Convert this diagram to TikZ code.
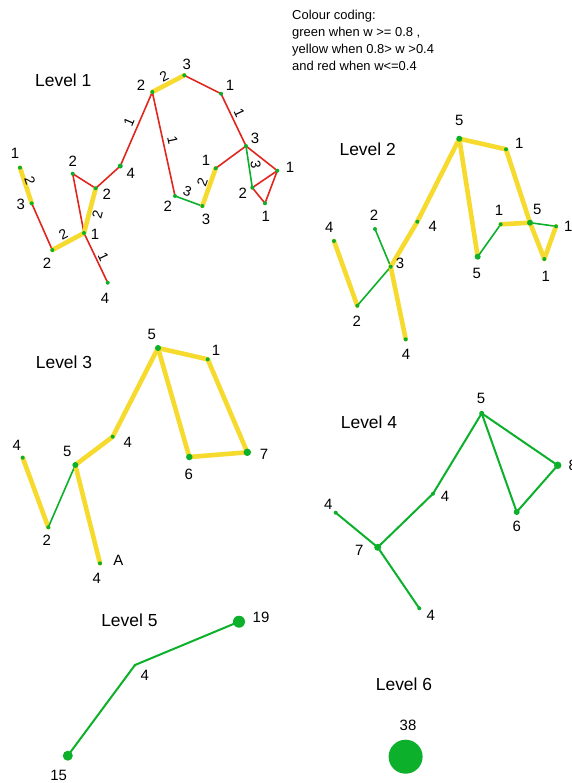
\documentclass[tikz,border=0pt]{standalone}
\usepackage{fontspec}
\setmainfont{Liberation Sans}
\usetikzlibrary{backgrounds}
\definecolor{gcol}{RGB}{13,176,43}
\definecolor{rcol}{RGB}{224,38,30}
\definecolor{ycol}{RGB}{246,218,46}
\tikzset{
  dot/.style={circle,fill=gcol,inner sep=0pt,minimum size=#1},
  dot/.default=4bp,
  vlab/.style={inner sep=0pt,font=\fontsize{15}{15}\selectfont},
  wlab/.style={inner sep=0pt,font=\fontsize{14}{14}\selectfont},
  lvl/.style={inner sep=0pt,font=\fontsize{17.5}{17.5}\selectfont},
  redl/.style={draw=rcol,line width=1.6bp},
  yell/.style={draw=ycol,line width=4.6bp,line cap=round},
  grnl/.style={draw=gcol,line width=1.6bp},
  grnm/.style={draw=gcol,line width=2bp},
}
\begin{document}
\begin{tikzpicture}[x=1bp,y=-1bp]
\useasboundingbox (0,0) rectangle (572,783);

% legend
\node[anchor=north west,inner sep=0pt,align=left,font=\fontsize{13}{17.3}\selectfont] (legend) at (292,9.5)
 {Colour coding:\\green when w >= 0.8 ,\\yellow when 0.8> w >0.4\\and red when w<=0.4};

% ---------------- Level 1
\node[lvl] (L1) at (63.3,80) {Level 1};
\node[dot] (A1) at (20,167.7) {};
\node[dot] (A2) at (31.7,203.3) {};
\node[dot] (A3) at (52.3,250) {};
\node[dot] (A4) at (84,233) {};
\node[dot] (A5) at (107.7,282.7) {};
\node[dot] (A6) at (72.7,173.7) {};
\node[dot] (A7) at (95.7,188.3) {};
\node[dot=5bp] (A8) at (120.3,166) {};
\node[dot] (A9) at (152.3,92) {};
\node[dot] (A10) at (184.3,75.3) {};
\node[dot] (A11) at (221,93.7) {};
\node[dot] (A12) at (246,146) {};
\node[dot] (A13) at (277.3,170.7) {};
\node[dot] (A14) at (252.3,187.7) {};
\node[dot] (A15) at (265,203.3) {};
\node[dot] (A16) at (215.7,168.3) {};
\node[dot] (A17) at (202.3,206) {};
\node[dot] (A18) at (175,196) {};

\node[vlab] (a1) at (15,153) {1};
\node[vlab] (a2) at (20.7,204) {3};
\node[vlab] (a3) at (47,263) {2};
\node[vlab] (a4) at (95,234) {1};
\node[vlab] (a5) at (105,298) {4};
\node[vlab] (a6) at (72.7,161.7) {2};
\node[vlab] (a7) at (106.7,194) {2};
\node[vlab] (a8) at (130.7,173) {4};
\node[vlab] (a9) at (141,85.7) {2};
\node[vlab] (a10) at (186.7,64) {3};
\node[vlab] (a11) at (230,85.7) {1};
\node[vlab] (a12) at (255,138.3) {3};
\node[vlab] (a13) at (290,167.3) {1};
\node[vlab] (a14) at (242.7,193.3) {2};
\node[vlab] (a15) at (265.7,216.7) {1};
\node[vlab] (a16) at (206,160) {1};
\node[vlab] (a17) at (206,219.3) {3};
\node[vlab] (a18) at (167.7,206) {2};

% edge weights
\node[wlab,rotate=-71.8] (w1) at (30,181) {2};
\node[wlab,rotate=28.2] (w2) at (63.3,234) {2};
\node[wlab,rotate=-64.5] (w3) at (103.3,256.7) {1};
\node[wlab,rotate=75.3] (w4) at (97.3,214.3) {2};
\node[wlab,rotate=66.6] (w5) at (129,121.7) {1};
\node[wlab,rotate=27.6] (w6) at (164,76) {2};
\node[wlab,rotate=-64.5] (w7) at (239.3,113.3) {1};
\node[wlab,rotate=-77.7] (w8) at (172.7,140.7) {1};
\node[wlab,rotate=-20.1] (w9) at (187.3,191.7) {3};
\node[wlab,rotate=70.4] (w10) at (202.3,182.3) {2};
\node[wlab,rotate=-81.4] (w11) at (255.7,165) {3};

\begin{scope}[on background layer]
\draw[yell] (A1.center) -- (A2.center);
\draw[redl] (A2.center) -- (A3.center);
\draw[yell] (A3.center) -- (A4.center);
\draw[redl] (A4.center) -- (A5.center);
\draw[redl] (A4.center) -- (A6.center);
\draw[redl] (A6.center) -- (A7.center);
\draw[yell] (A4.center) -- (A7.center);
\draw[redl] (A7.center) -- (A8.center);
\draw[redl] (A8.center) -- (A9.center);
\draw[yell] (A9.center) -- (A10.center);
\draw[redl] (A10.center) -- (A11.center);
\draw[redl] (A11.center) -- (A12.center);
\draw[redl] (A9.center) -- (A18.center);
\draw[grnl] (A18.center) -- (A17.center);
\draw[yell] (A17.center) -- (A16.center);
\draw[redl] (A16.center) -- (A12.center);
\draw[redl] (A12.center) -- (A13.center);
\draw[grnl] (A12.center) -- (A14.center);
\draw[redl] (A14.center) -- (A13.center);
\draw[redl] (A14.center) -- (A15.center);
\draw[redl] (A15.center) -- (A13.center);
\end{scope}

% ---------------- Level 2
\node[lvl] (L2) at (367.7,149) {Level 2};
\node[dot] (B1) at (334,241) {};
\node[dot] (B2) at (357.3,305.7) {};
\node[dot] (B3) at (390.7,266.7) {};
\node[dot] (B4) at (405.7,339.3) {};
\node[dot] (B5) at (375,229) {};
\node[dot] (B6) at (417.3,221.7) {};
\node[dot=6bp] (B7) at (459.3,138.7) {};
\node[dot] (B8) at (506,149.3) {};
\node[dot=6bp] (B9) at (477.7,256.7) {};
\node[dot] (B10) at (500.7,224.3) {};
\node[dot=6bp] (B11) at (530,222.7) {};
\node[dot] (B12) at (556,226.3) {};
\node[dot] (B13) at (544.3,259) {};

\node[vlab] (b1) at (329.3,227.7) {4};
\node[vlab] (b2) at (356.7,321.7) {2};
\node[vlab] (b3) at (400,263.3) {3};
\node[vlab] (b4) at (406,354.3) {4};
\node[vlab] (b5) at (374,215) {2};
\node[vlab] (b6) at (432.7,226) {4};
\node[vlab] (b7) at (459.3,120) {5};
\node[vlab] (b8) at (519.3,143.3) {1};
\node[vlab] (b9) at (476.7,273.3) {5};
\node[vlab] (b10) at (499,210) {1};
\node[vlab] (b11) at (537.3,209.3) {5};
\node[vlab] (b12) at (568.3,226.7) {1};
\node[vlab] (b13) at (545.7,276.7) {1};

\begin{scope}[on background layer]
\draw[yell] (B1.center) -- (B2.center);
\draw[grnl] (B2.center) -- (B3.center);
\draw[grnl] (B5.center) -- (B3.center);
\draw[yell] (B4.center) -- (B3.center) -- (B6.center) -- (B7.center);
\draw[yell] (B7.center) -- (B8.center);
\draw[yell] (B7.center) -- (B9.center);
\draw[grnl] (B9.center) -- (B10.center);
\draw[yell] (B10.center) -- (B11.center);
\draw[grnl] (B11.center) -- (B12.center);
\draw[yell] (B8.center) -- (B11.center) -- (B13.center);
\draw[yell] (B13.center) -- (B12.center);
\end{scope}

% ---------------- Level 3
\node[lvl] (L3) at (64,362.3) {Level 3};
\node[dot] (C1) at (22.7,457.7) {};
\node[dot] (C2) at (48.3,527.3) {};
\node[dot=6bp] (C3) at (75.3,465) {};
\node[dot] (C4) at (100,563.3) {};
\node[dot] (C5) at (112.7,436.7) {};
\node[dot=6bp] (C6) at (158,348) {};
\node[dot] (C7) at (207.7,359.3) {};
\node[dot=6.5bp] (C8) at (189.3,457) {};
\node[dot=7.5bp] (C9) at (247.3,452.3) {};

\node[vlab] (c1) at (16.7,445) {4};
\node[vlab] (c2) at (46.7,540) {2};
\node[vlab] (c3) at (67.3,451.7) {5};
\node[vlab] (c4) at (96.7,578.3) {4};
\node[vlab] (cA) at (118.3,560.7) {A};
\node[vlab] (c5) at (127.7,442.7) {4};
\node[vlab] (c6) at (151.7,334) {5};
\node[vlab] (c7) at (216,350) {1};
\node[vlab] (c8) at (188.7,474) {6};
\node[vlab] (c9) at (264,454) {7};

\begin{scope}[on background layer]
\draw[yell] (C1.center) -- (C2.center);
\draw[grnl] (C2.center) -- (C3.center);
\draw[yell] (C3.center) -- (C4.center);
\draw[yell] (C3.center) -- (C5.center) -- (C6.center);
\draw[yell] (C6.center) -- (C7.center);
\draw[yell] (C6.center) -- (C8.center);
\draw[yell] (C7.center) -- (C9.center);
\draw[yell] (C8.center) -- (C9.center);
\end{scope}

% ---------------- Level 4
\node[lvl] (L4) at (369,422.7) {Level 4};
\node[dot] (D1) at (335.7,512.7) {};
\node[dot=7bp] (D2) at (377.7,547.3) {};
\node[dot] (D3) at (419.3,608.3) {};
\node[dot] (D4) at (433,493.7) {};
\node[dot=5bp] (D5) at (481.7,413.3) {};
\node[dot=6bp] (D6) at (516.7,512) {};
\node[dot=7.5bp] (D7) at (557.7,465.3) {};

\node[vlab] (d1) at (328.3,504) {4};
\node[vlab] (d2) at (359.3,550) {7};
\node[vlab] (d3) at (430.7,615) {4};
\node[vlab] (d4) at (445,496.7) {4};
\node[vlab] (d5) at (481,398.3) {5};
\node[vlab] (d6) at (516.7,526.7) {6};
\node[vlab] (d7) at (572.7,465) {8};

\begin{scope}[on background layer]
\draw[grnm] (D1.center) -- (D2.center);
\draw[grnm] (D2.center) -- (D3.center);
\draw[grnm] (D2.center) -- (D4.center);
\draw[grnm] (D4.center) -- (D5.center);
\draw[grnm] (D5.center) -- (D6.center);
\draw[grnm] (D5.center) -- (D7.center);
\draw[grnm] (D6.center) -- (D7.center);
\end{scope}

% ---------------- Level 5
\node[lvl] (L5) at (129.4,620) {Level 5};
\node[dot=12bp] (E1) at (239,621.7) {};
\node[dot=3bp] (E2) at (135,665) {};
\node[dot=10bp] (E3) at (67.8,755.7) {};
\node[vlab] (e1) at (261,617.3) {19};
\node[vlab] (e2) at (144.8,675) {4};
\node[vlab] (e3) at (58.7,775) {15};
\begin{scope}[on background layer]
\draw[grnm] (E3.center) -- (E2.center) -- (E1.center);
\end{scope}

% ---------------- Level 6
\node[lvl] (L6) at (404,684.3) {Level 6};
\node[dot=34bp] (F1) at (405.6,756.7) {};
\node[vlab] (f1) at (408,725) {38};
\end{tikzpicture}
\end{document}
